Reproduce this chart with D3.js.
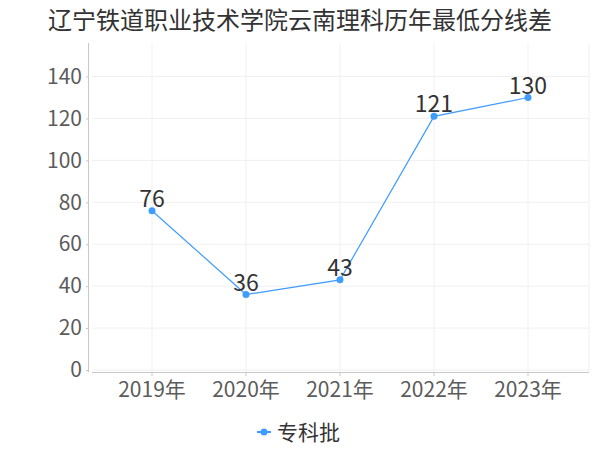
<!DOCTYPE html>
<html lang="zh">
<head>
<meta charset="UTF-8">
<title>最低分线差</title>
<style>
  body { margin: 0; background: #fff; }
  text { font-family: "Noto Sans CJK SC", sans-serif; }
  .grid line { stroke: #f0f0f0; stroke-width: 1; }
  .axis path, .axis line { stroke: #c8c8c8; }
  .axis text { fill: #5c5c5c; font-size: 21px; font-family: "Noto Sans CJK SC", sans-serif; }
</style>
</head>
<body>
<svg width="600" height="450"></svg>
<script src="https://d3js.org/d3.v7.min.js"></script>
<script>
// chart data
const years = ["2019年", "2020年", "2021年", "2022年", "2023年"];
const scores = [76, 36, 43, 121, 130];
const yTicks = [0, 20, 40, 60, 80, 100, 120, 140];
const seriesName = "专科批";
const title = "辽宁铁道职业技术学院云南理科历年最低分线差";

const svg = d3.select("svg");
const color = "#3f9cff";

const x = d3.scaleBand().domain(years).range([105, 575]);
const y = d3.scaleLinear().domain([0, 156]).range([370, 43]);

// title
svg.append("text")
    .attr("x", 300).attr("y", 29)
    .attr("text-anchor", "middle")
    .attr("fill", "#333")
    .style("font-size", "24px")
    .text(title);

// grid lines
const grid = svg.append("g").attr("class", "grid");
grid.selectAll("line.h").data(yTicks).join("line")
    .attr("class", "h")
    .attr("x1", 92).attr("x2", 589)
    .attr("y1", d => y(d)).attr("y2", d => y(d));
grid.selectAll("line.v").data(years).join("line")
    .attr("class", "v")
    .attr("x1", d => x(d) + x.bandwidth() / 2).attr("x2", d => x(d) + x.bandwidth() / 2)
    .attr("y1", 43).attr("y2", 372);
grid.append("line")
    .attr("x1", 589).attr("x2", 589).attr("y1", 43).attr("y2", 372);

// y axis
svg.append("g")
    .attr("class", "axis")
    .attr("transform", "translate(89,0)")
    .call(d3.axisLeft(y).tickValues(yTicks).tickSize(3).tickPadding(4))
    .call(g => g.select(".domain").attr("d", "M-0.5,43V372"));

// x axis
svg.append("g")
    .attr("class", "axis")
    .attr("transform", "translate(0,372)")
    .call(d3.axisBottom(x).tickSize(4).tickPadding(6))
    .call(g => g.select(".domain").attr("d", "M92,0.5H589"));

// line
const cx = d => x(d) + x.bandwidth() / 2;
const pts = years.map((d, i) => [cx(d), y(scores[i])]);

svg.append("path")
    .datum(pts)
    .attr("fill", "none")
    .attr("stroke", color)
    .attr("stroke-width", 1.2)
    .attr("d", d3.line());

svg.selectAll("circle.pt").data(pts).join("circle")
    .attr("class", "pt")
    .attr("cx", d => d[0]).attr("cy", d => d[1])
    .attr("r", 3.5)
    .attr("fill", color);

svg.selectAll("text.lbl").data(scores).join("text")
    .attr("class", "lbl")
    .attr("x", (d, i) => pts[i][0])
    .attr("y", (d, i) => pts[i][1] - 4)
    .attr("text-anchor", "middle")
    .attr("fill", "#333")
    .style("font-size", "23px")
    .text(d => d);

// legend
const lg = svg.append("g").attr("transform", "translate(264,432)");
lg.append("line").attr("x1", -7).attr("x2", 7).attr("stroke", color).attr("stroke-width", 2);
lg.append("circle").attr("r", 3.5).attr("fill", color);
lg.append("text")
    .attr("x", 13).attr("y", 8)
    .attr("fill", "#333")
    .style("font-size", "21px")
    .text(seriesName);
</script>
</body>
</html>
